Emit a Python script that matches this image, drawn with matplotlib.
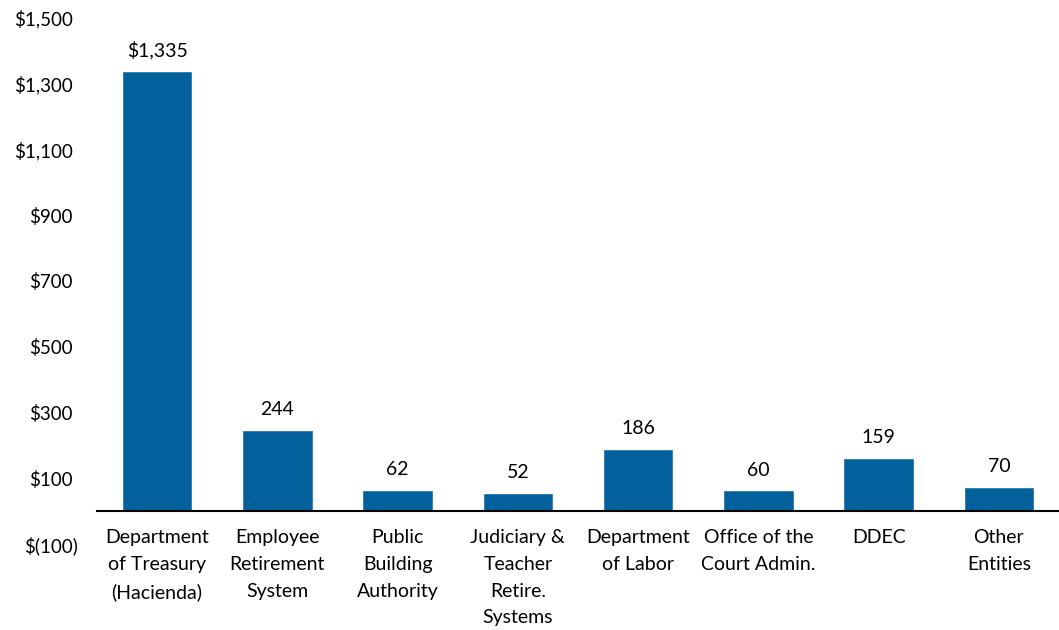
import matplotlib
matplotlib.use("Agg")
import matplotlib.pyplot as plt
import matplotlib.transforms as mtrans

categories = ["Department\nof Treasury\n(Hacienda)", "Employee\nRetirement\nSystem",
              "Public\nBuilding\nAuthority", "Judiciary &\nTeacher\nRetire.\nSystems",
              "Department\nof Labor", "Office of the\nCourt Admin.", "DDEC", "Other\nEntities"]
values = [1335, 244, 62, 52, 186, 60, 159, 70]
value_labels = ["$1,335", "244", "62", "52", "186", "60", "159", "70"]
yticks = [-100, 100, 300, 500, 700, 900, 1100, 1300, 1500]
ytick_labels = ["$(100)", "$100", "$300", "$500", "$700", "$900", "$1,100", "$1,300", "$1,500"]

plt.rcParams['font.family'] = ['Lato', 'DejaVu Sans']
fig = plt.figure(figsize=(10.59, 6.3), dpi=100)
ax = fig.add_axes([97/1059, 1 - 543.8/630, 1 - 97/1059, (543.8 - 18)/630])

FS = 14
color = '#02619C'
x = list(range(len(categories)))
ax.bar(x, values, width=0.57, color=color, edgecolor='#2E7AB0', linewidth=0.6, zorder=2)
for xi, v, lab in zip(x, values, value_labels):
    ax.annotate(lab, (xi, v), xytext=(0, 9), textcoords='offset points',
                ha='center', va='bottom', fontsize=FS, color='black')

# category labels beneath the zero line
for xi, cat in zip(x, categories):
    ax.annotate(cat, (xi, 0), xytext=(0, -13), textcoords='offset points',
                ha='center', va='top', fontsize=FS, linespacing=1.7,
                color='black', annotation_clip=False)

ax.set_xlim(-0.5, len(categories) - 0.5)
ax.set_ylim(-100, 1500)
ax.set_yticks(yticks)
ax.set_yticklabels(ytick_labels)
ax.set_xticks([])
ax.tick_params(axis='both', length=0)
ax.tick_params(axis='y', pad=14, labelsize=13.5)
for lab, val in zip(ax.get_yticklabels(), yticks):
    if val >= 0:
        lab.set_transform(lab.get_transform() + mtrans.ScaledTranslation(-5/100, 0, fig.dpi_scale_trans))

for s in ['left', 'right', 'top']:
    ax.spines[s].set_visible(False)
ax.spines['bottom'].set_position(('data', 0))
ax.spines['bottom'].set_linewidth(1.5)
ax.spines['bottom'].set_color('black')

fig.savefig('out.png', dpi=100)
